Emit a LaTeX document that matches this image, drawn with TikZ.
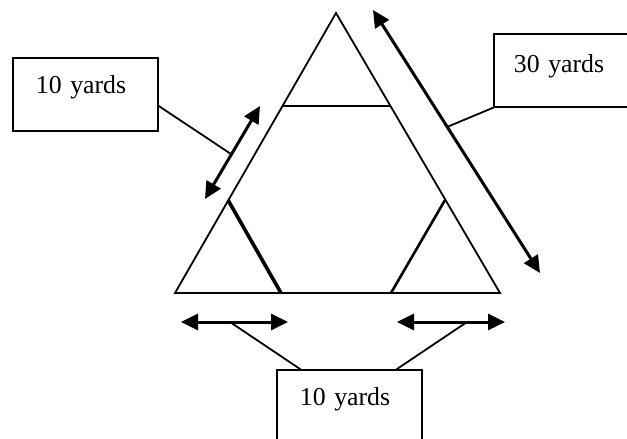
\documentclass[tikz,border=0pt]{standalone}
\usepackage{fontspec}
\setmainfont{Liberation Serif}
\usetikzlibrary{arrows.meta}
\begin{document}
\begin{tikzpicture}[x=1pt,y=-1pt,
  thin line/.style={line width=1.8pt, line cap=rect},
  dimarrow/.style={line width=3pt, {Triangle[length=17pt,width=16pt]}-{Triangle[length=17pt,width=16pt]}},
  labelbox/.style={draw, line width=1.8pt, text width=99pt, align=left, inner xsep=23pt, inner ysep=0pt,
    minimum height=73pt, font=\fontsize{25.8}{30}\selectfont, anchor=north west}]
\useasboundingbox (0,0) rectangle (627,439);
\clip (0,0) rectangle (627,439);
% outer triangle corners
\coordinate (apex) at (336,13);
\coordinate (bl) at (175,293);
\coordinate (br) at (500,293);
% inner cut points
\coordinate (p1) at (283,106);
\coordinate (p2) at (390,106);
\coordinate (p3) at (228,200);
\coordinate (p4) at (281,293);
\coordinate (p5) at (445,200);
\coordinate (p6) at (391,293);
\draw[thin line, line join=miter] (apex) -- (bl) -- (br) -- cycle;
\draw[thin line] (p1) -- (p2);
\draw[line width=3.6pt] (p3) -- (p4);
\draw[line width=2.6pt] (p5) -- (p6);
% label boxes
\node[labelbox, text height=18pt, text depth=19pt] (boxL) at (12,57) {10 yards};
\node[labelbox, text width=105pt, inner xsep=20pt, text height=18pt, text depth=14pt] (boxR) at (493,33) {30 yards};
\node[labelbox, text height=18pt, text depth=19pt] (boxB) at (276,369) {10 yards};
% dimension arrows
\coordinate (aL1) at (260,106);
\coordinate (aL2) at (205,199);
\coordinate (aR1) at (373,10);
\coordinate (aR2) at (540,273);
\coordinate (aB1) at (181,322);
\coordinate (aB2) at (288,322);
\coordinate (aC1) at (397,322);
\coordinate (aC2) at (505,322);
\draw[dimarrow] (aL1) -- (aL2);
\draw[dimarrow] (aR1) -- (aR2);
\draw[dimarrow] (aB1) -- (aB2);
\draw[dimarrow] (aC1) -- (aC2);
% leader lines
\coordinate (tL) at (231,154);
\coordinate (tR) at (447,127);
\coordinate (tB1) at (230,322);
\coordinate (tB2) at (467,322);
\draw[thin line] (boxL.east |- 0,106) -- (tL);
\draw[thin line] (boxR.south west) -- (tR);
\draw[thin line] (tB1) -- (boxB.north west -| 300,0);
\draw[thin line] (tB2) -- (boxB.north west -| 397,0);
\end{tikzpicture}
\end{document}
